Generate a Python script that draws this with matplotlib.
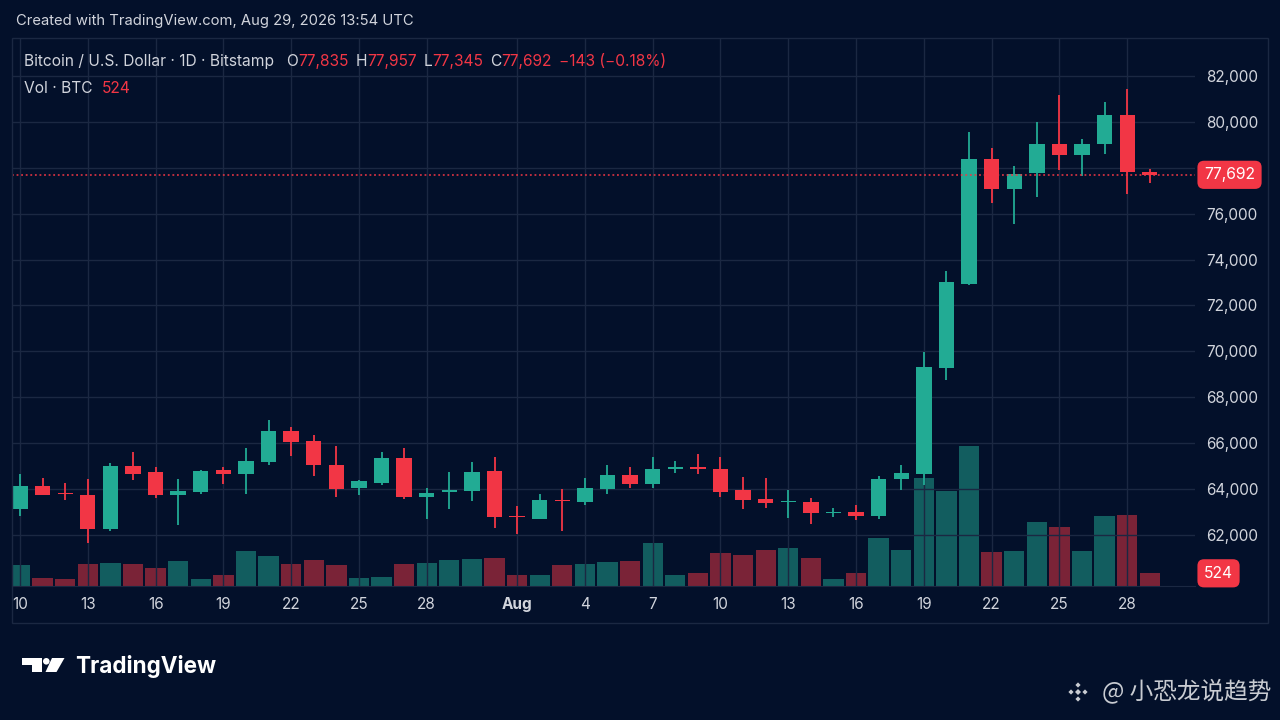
import matplotlib
matplotlib.use('Agg')
import matplotlib.pyplot as plt
from matplotlib.patches import Rectangle, Polygon, Circle
from matplotlib.transforms import blended_transform_factory

plt.rcParams['font.family'] = ['Inter', 'DejaVu Sans']

# daily BTC/USD candles, Jul 10 -> Aug 29
opens = [63140, 64145, 63825, 63750, 62270, 65015, 64740, 63750, 63855, 64830,
         64670, 65190, 66545, 66110, 65045, 64030, 64275, 65365, 63665, 63885,
         63895, 64770, 62835, 62705, 63535, 63430, 64000, 64610, 64205, 64855,
         64945, 64885, 63940, 63565, 63420, 63420, 62955, 63010, 62805, 64450,
         64670, 69290, 72930, 78395, 77070, 77770, 79020, 78570, 79020, 80300,
         77835]
highs = [64670, 64495, 64260, 64450, 65135, 65615, 64960, 64435, 64845, 64960,
         65800, 67010, 66720, 66355, 65875, 64375, 65600, 65790, 64045, 64725,
         65190, 65410, 63245, 63765, 64015, 64495, 65060, 64975, 65380, 65205,
         65510, 65380, 64535, 64495, 63970, 63605, 63170, 63315, 64565, 65060,
         69990, 73495, 79545, 78875, 78090, 79980, 81170, 79235, 80850, 81435,
         77957]
lows = [62820, 63720, 63535, 61660, 62165, 64375, 63605, 62430, 63795, 64205,
        63765, 65045, 65455, 64550, 63650, 63750, 64190, 63550, 62705, 63140,
        63475, 62315, 62050, 62690, 62155, 63300, 63780, 64045, 64060, 64710,
        64670, 63650, 63140, 63185, 62750, 62475, 62790, 62645, 62675, 63970,
        64160, 68770, 72900, 76475, 75530, 76705, 77900, 77640, 78585, 76840,
        77345]
closes = [64130, 63750, 63760, 62270, 64990, 64670, 63740, 63910, 64785, 64670,
          65220, 66545, 66050, 65030, 64015, 64335, 65365, 63650, 63840, 63940,
          64740, 62790, 62780, 63535, 63475, 64060, 64610, 64205, 64885, 64945,
          64870, 63855, 63505, 63390, 63475, 62940, 63010, 62805, 64450, 64700,
          69320, 73030, 78365, 77070, 77740, 79020, 78570, 79035, 80300, 77835,
          77692]
volumes = [881, 330, 303, 922, 964, 922, 730, 1047, 303, 454,
           1459, 1239, 909, 1060, 853, 317, 372, 922, 950, 1074,
           1101, 1170, 441, 441, 853, 909, 977, 1019, 1762, 468,
           551, 1349, 1280, 1473, 1555, 1170, 303, 523, 1969, 1487,
           4460, 3924, 5768, 1418, 1459, 2629, 2451, 1459, 2877, 2918,
           524]

tick_idx = [0, 3, 6, 9, 12, 15, 18, 22, 25, 28, 31, 34, 37, 40, 43, 46, 49]
tick_lbl = ['10', '13', '16', '19', '22', '25', '28', 'Aug', '4', '7',
            '10', '13', '16', '19', '22', '25', '28']
price_ticks = [62000, 64000, 66000, 68000, 70000, 72000, 74000, 76000,
               78000, 80000, 82000]
last_price = 77692
last_vol = 524

BG = '#03102a'
GRID = '#1b2842'
TXT = '#d1d4dc'
UP = '#22ab94'
DN = '#f23645'

W, H = 1280, 720
fig = plt.figure(figsize=(12.8, 7.2), dpi=100, facecolor=BG)

ax = fig.add_axes([12 / W, 1 - 586 / H, (1195 - 12) / W, (586 - 38) / H])
vax = ax.twinx()
vax.set_zorder(ax.get_zorder() - 1)
ax.patch.set_visible(False)
vax.patch.set_facecolor(BG)

n = len(opens)
x = list(range(n))
cols = [UP if c >= o else DN for o, c in zip(opens, closes)]

# volume bars
vax.bar(x, volumes, width=0.9, color=cols, alpha=0.5, linewidth=0)
vax.set_ylim(0, 22630)
vax.set_yticks([])
for s in vax.spines.values():
    s.set_visible(False)

# candles
ax.vlines(x, lows, highs, colors=cols, linewidth=1.3, zorder=3)
bottoms = [min(o, c) for o, c in zip(opens, closes)]
heights = [max(abs(c - o), 45) for o, c in zip(opens, closes)]
ax.bar(x, heights, bottom=bottoms, width=0.68, color=cols, linewidth=0, zorder=4)

ax.set_xlim(-0.354, 52.0)
ax.set_ylim(59770, 83656)

# grid
ax.set_xticks(tick_idx)
ax.set_xticklabels(tick_lbl)
ax.set_yticks(price_ticks)
ax.set_yticklabels(['' if p == 78000 else f'{p:,}' for p in price_ticks])
ax.grid(True, color=GRID, linewidth=1, zorder=0)
ax.set_axisbelow(True)
ax.yaxis.tick_right()
ax.tick_params(axis='x', length=0, pad=8, labelsize=11, labelcolor=TXT)
ax.tick_params(axis='y', length=0, pad=8, labelsize=11, labelcolor=TXT)
for lbl in ax.get_xticklabels():
    if lbl.get_text() == 'Aug':
        lbl.set_fontweight('bold')
for k, s in ax.spines.items():
    s.set_visible(k == 'bottom')
    s.set_color(GRID)

# last price line + labels
ax.axhline(last_price, color=DN, linewidth=1.1, linestyle=(0, (1.2, 1.8)), zorder=5)
tr = blended_transform_factory(ax.transAxes, ax.transData)
ax.annotate(f'{last_price:,}', xy=(1.0, last_price), xycoords=tr,
            xytext=(6.5, 0), textcoords='offset points', ha='left', va='center',
            color='white', fontsize=11.3, annotation_clip=False,
            bbox=dict(boxstyle='round,pad=0.42', fc=DN, ec='none'))
trv = blended_transform_factory(vax.transAxes, vax.transData)
vax.annotate(f'{last_vol}', xy=(1.0, last_vol), xycoords=trv,
             xytext=(6.5, 0), textcoords='offset points', ha='left', va='center',
             color='white', fontsize=11.3, annotation_clip=False,
             bbox=dict(boxstyle='round,pad=0.42', fc=DN, ec='none'))

# overlay in pixel coords for frame, header and logos
ov = fig.add_axes([0, 0, 1, 1], zorder=10)
ov.set_xlim(0, W)
ov.set_ylim(H, 0)
ov.axis('off')
ov.add_patch(Rectangle((12, 38), 1256, 585, fill=False, ec=GRID, lw=1))

ov.text(16, 21, 'Created with TradingView.com, Aug 29, 2026 13:54 UTC',
        color=TXT, fontsize=10.65, va='center', ha='left')

parts = [('Bitcoin / U.S. Dollar · 1D · Bitstamp', TXT, 0),
         ('O', TXT, 9), ('77,835', DN, 0),
         ('H', TXT, 5), ('77,957', DN, 0),
         ('L', TXT, 5), ('77,345', DN, 0),
         ('C', TXT, 5), ('77,692', DN, 0),
         ('\u2212143 (\u22120.18%)', DN, 5)]
prev = None
for s, c, gap in parts:
    if prev is None:
        prev = ov.text(24, 66, s, color=c, fontsize=11.2, ha='left', va='baseline')
    else:
        prev = ov.annotate(s, xy=(1, 0), xycoords=prev, xytext=(gap, 0),
                           textcoords='offset points', color=c, fontsize=11.2,
                           ha='left', va='bottom')
t = ov.text(24, 93, 'Vol · BTC', color=TXT, fontsize=11.2, ha='left', va='baseline')
ov.annotate('524', xy=(1, 0), xycoords=t, xytext=(7, 0), textcoords='offset points',
            color=DN, fontsize=11.2, ha='left', va='bottom')

# TradingView logo
ov.add_patch(Polygon([(21.5, 658), (42, 658), (42, 672), (32, 672),
                      (32, 664.5), (21.5, 664.5)], closed=True, fc='white', ec='none'))
ov.add_patch(Circle((46.3, 661.3), 3.3, fc='white', ec='none'))
ov.add_patch(Polygon([(52, 658), (64.5, 658), (56.5, 672), (45.5, 672)],
                     closed=True, fc='white', ec='none'))
ov.text(75, 667, 'TradingView', color='white', fontsize=16.2, fontweight='bold',
        ha='left', va='center')

# watermark
wc = '#c9ccd2'
cx, cy = 1078, 692
for dx, dy, r in [(0, 0, 3.0), (0, -7, 2.6), (0, 7, 2.6), (-7, 0, 2.6), (7, 0, 2.6)]:
    ov.add_patch(Polygon([(cx + dx, cy + dy - r), (cx + dx + r, cy + dy),
                          (cx + dx, cy + dy + r), (cx + dx - r, cy + dy)],
                         closed=True, fc=wc, ec='none'))
ov.text(1102, 692, '@ 小恐龙说趋势', color=wc, fontsize=17, ha='left', va='center',
        family=['Noto Sans CJK SC', 'DejaVu Sans'])

fig.savefig('out.png', dpi=100, facecolor=BG)
